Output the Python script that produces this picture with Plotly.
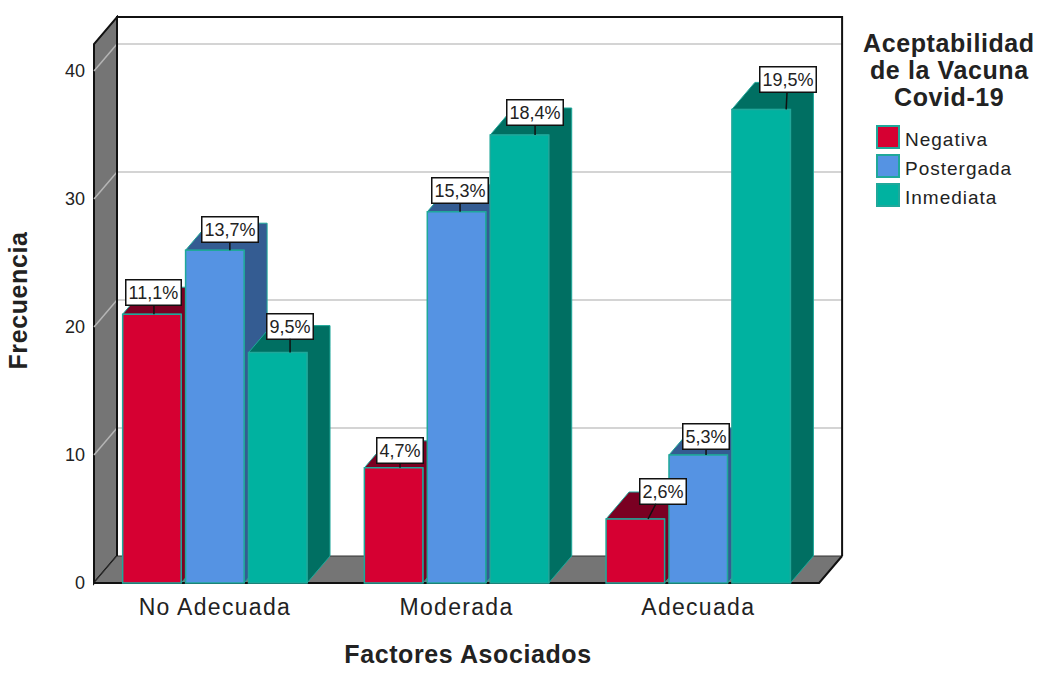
import plotly.graph_objects as go

# Chart content
categories = ["No Adecuada", "Moderada", "Adecuada"]
series_names = ["Negativa", "Postergada", "Inmediata"]
negativa = [21, 9, 5]
postergada = [26, 29, 10]
inmediata = [18, 35, 37]
pct_negativa = ["11,1%", "4,7%", "2,6%"]
pct_postergada = ["13,7%", "15,3%", "5,3%"]
pct_inmediata = ["9,5%", "18,4%", "19,5%"]
y_ticks = [0, 10, 20, 30, 40]

series_values = [negativa, postergada, inmediata]
series_pcts = [pct_negativa, pct_postergada, pct_inmediata]

# Styling
front_colors = ["#D60032", "#5593E3", "#00B2A0"]
side_colors = ["#7A0022", "#345C92", "#006F62"]
edge_color = "#1FA89A"
wall_color = "#757575"
grid_color = "#D4D4D4"
text_color = "#222222"
font_family = "Liberation Sans, Arial, sans-serif"

W, H = 1043, 677
PLOT_L, PLOT_R, PLOT_T, PLOT_B = 92, 844, 15, 586
PX_PER_X = 241.7
PX_PER_Y = 12.8
X0_PX, Y0_PX = 94, 583          # front-left corner of the floor
X_LOW = -0.5                    # x value at the front-left corner
X_HIGH = 2.5                    # x value at the front-right corner
DX = 23 / PX_PER_X              # horizontal extent of the box depth
DY = 27 / PX_PER_Y              # vertical extent of the box depth
TOP_VALUE = 42.1                # front top of the box

BARGAP = 0.219
BARGROUPGAP = 0.07
slot = (1 - BARGAP) / 3
half_bar = slot * (1 - BARGROUPGAP) / 2

x_range = [X_LOW - (X0_PX - PLOT_L) / PX_PER_X, X_LOW + (PLOT_R - X0_PX) / PX_PER_X]
y_range = [-(PLOT_B - Y0_PX) / PX_PER_Y, (Y0_PX - PLOT_T) / PX_PER_Y]


def spaced(text, spacing):
    return f'<span style="letter-spacing:{spacing}px">{text}</span>'


def paper_x(px):
    return (px - PLOT_L) / (PLOT_R - PLOT_L)


def paper_y(py):
    return (PLOT_B - py) / (PLOT_B - PLOT_T)


positions = list(range(len(categories)))
fig = go.Figure()

# Each series gets a depth face (top and side) and then its front faces, painted left to right
for s, name in enumerate(series_names):
    xs, ys = [], []
    for g, pos in enumerate(positions):
        v = series_values[s][g]
        c = pos + (s - 1) * slot
        xl, xr = c - half_bar, c + half_bar
        xs += [xl, xl + DX, xr + DX, xr + DX, xr, xr, xl, None]
        ys += [v, v + DY, v + DY, DY, 0, v, v, None]
    fig.add_trace(go.Scatter(
        x=xs, y=ys, mode="lines", fill="toself", fillcolor=side_colors[s],
        line=dict(color=edge_color, width=1), hoverinfo="skip", showlegend=False,
        zorder=2 * s + 1,
    ))
    fig.add_trace(go.Bar(
        x=positions, y=series_values[s], name=name, marker_color=front_colors[s],
        marker_line=dict(color=edge_color, width=1.5), showlegend=False,
        zorder=2 * s + 2,
    ))

# Box walls, floor, back-wall gridlines
shapes = []
left, right = X_LOW, X_HIGH
shapes.append(dict(type="path", layer="below", fillcolor=wall_color,
                   line=dict(color="#111111", width=2),
                   path=f"M{left},0 L{left},{TOP_VALUE} L{left+DX},{TOP_VALUE+DY} L{left+DX},{DY} Z"))
shapes.append(dict(type="path", layer="below", fillcolor=wall_color,
                   line=dict(color="#333333", width=1),
                   path=f"M{left},0 L{left+DX},{DY} L{right+DX},{DY} L{right},0 Z"))
for t in y_ticks[1:]:
    shapes.append(dict(type="line", layer="below", line=dict(color=grid_color, width=2),
                       x0=left + DX, x1=right + DX, y0=t + DY, y1=t + DY))
    shapes.append(dict(type="line", layer="below", line=dict(color="#B5B5B5", width=1.5),
                       x0=left, x1=left + DX, y0=t, y1=t + DY))
shapes.append(dict(type="path", layer="below", line=dict(color="#111111", width=2),
                   path=f"M{left+DX},{DY} L{left+DX},{TOP_VALUE+DY} L{right+DX},{TOP_VALUE+DY} L{right+DX},{DY}"))
shapes.append(dict(type="path", layer="below", line=dict(color="#111111", width=2),
                   path=f"M{left},0 L{right},0 L{right+DX},{DY}"))

# Legend swatches
swatch_centers = [137, 166, 195]
for s, cy in enumerate(swatch_centers):
    shapes.append(dict(type="rect", xref="paper", yref="paper",
                       x0=paper_x(877), x1=paper_x(899), y0=paper_y(cy + 11), y1=paper_y(cy - 11),
                       fillcolor=front_colors[s], line=dict(color=edge_color, width=2)))

annotations = []

# Percentage callouts: leader x shift, box x offset and box y offset, in pixels
callouts = [
    [(2, 0, -22), (6.4, 0, -17), (12.7, 14.5, -28)],
    [(15, 0, -20.5), (3.5, 0, -21.5), (7.8, 0, -18.5)],
    [(12.3, 0, -26.5), (15.6, 0, -22.5), (25, 1.5, -30)],
]
for s in range(3):
    for g, pos in enumerate(positions):
        shift, ax, ay = callouts[s][g]
        annotations.append(dict(
            x=pos + (s - 1) * slot, y=series_values[s][g], xref="x", yref="y",
            text=series_pcts[s][g], xshift=shift, ax=ax, ay=ay,
            showarrow=True, arrowhead=0, arrowwidth=1.5, arrowcolor="#111111",
            standoff=0, bgcolor="white", bordercolor="#111111", borderwidth=1.5, borderpad=2,
            font=dict(family=font_family, size=18, color=text_color),
        ))

# Legend title and entries
for line, cy in zip(["Aceptabilidad", "de la Vacuna", "Covid-19"], [43, 70, 97]):
    annotations.append(dict(
        x=paper_x(949), y=paper_y(cy), xref="paper", yref="paper", showarrow=False,
        text=f"<b>{spaced(line, 0.6)}</b>", xanchor="center", yanchor="middle",
        font=dict(family=font_family, size=25, color=text_color),
    ))
for name, cy in zip(series_names, swatch_centers):
    annotations.append(dict(
        x=paper_x(903), y=paper_y(cy + 2), xref="paper", yref="paper", showarrow=False,
        text=spaced(name, 1), xanchor="left", yanchor="middle",
        font=dict(family=font_family, size=19, color=text_color),
    ))

fig.update_layout(
    width=W, height=H, autosize=False,
    margin=dict(l=PLOT_L, r=W - PLOT_R, t=PLOT_T, b=H - PLOT_B, pad=0),
    paper_bgcolor="white", plot_bgcolor="white",
    barmode="group", bargap=BARGAP, bargroupgap=BARGROUPGAP,
    showlegend=False, shapes=shapes, annotations=annotations,
    font=dict(family=font_family, color=text_color),
    xaxis=dict(
        range=x_range, tickmode="array", tickvals=positions,
        ticktext=[spaced(c, 1.3) for c in categories], ticks="", showgrid=False, zeroline=False,
        showline=False, tickfont=dict(size=23), ticklabelstandoff=5,
        title=dict(text=f"<b>{spaced('Factores Asociados', 0.6)}</b>", standoff=26,
                   font=dict(size=25)),
    ),
    yaxis=dict(
        range=y_range, tickmode="array", tickvals=y_ticks, ticks="", showgrid=False,
        zeroline=False, showline=False, tickfont=dict(size=18), ticklabelstandoff=6,
        title=dict(text=f"<b>{spaced('Frecuencia', 0.6)}</b>", standoff=30,
                   font=dict(size=25)),
    ),
)

fig.write_html("out.html")
